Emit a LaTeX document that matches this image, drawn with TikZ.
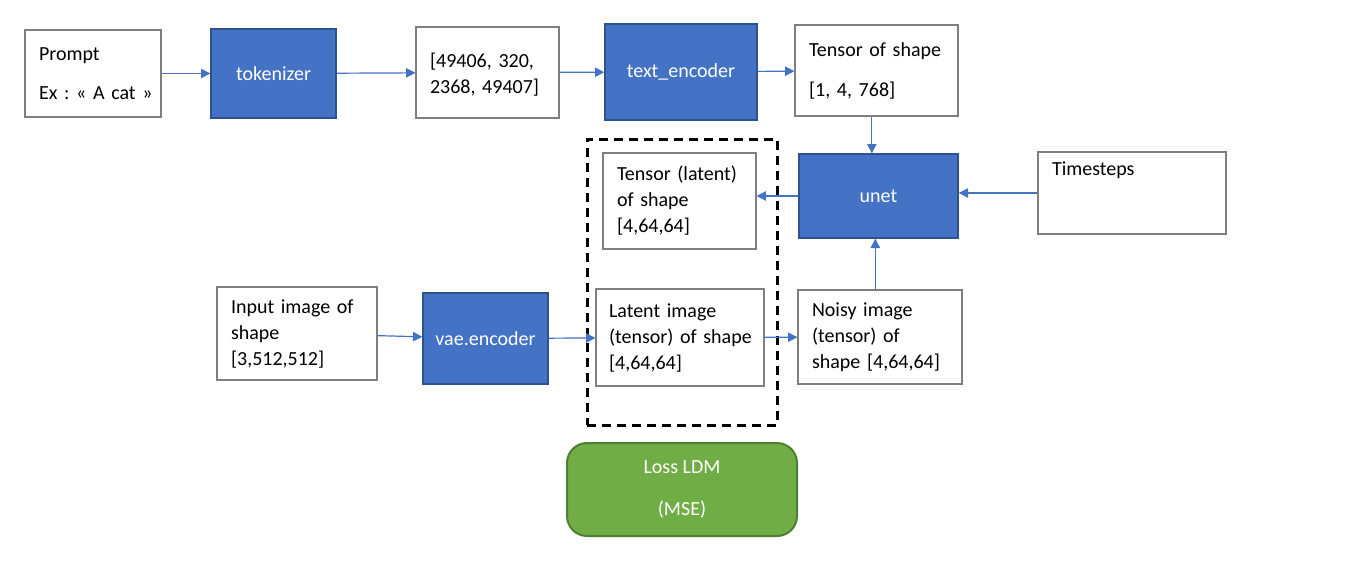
\documentclass[tikz,border=0pt]{standalone}
\usepackage{fontspec}
\setmainfont{Carlito}
\usetikzlibrary{arrows.meta}
\definecolor{boxblue}{HTML}{4472C4}
\definecolor{blueedge}{HTML}{2F528F}
\definecolor{boxgray}{HTML}{7F7F7F}
\definecolor{lossgreen}{HTML}{70AD47}
\definecolor{lossedge}{HTML}{507E32}
\frenchspacing

\begin{document}
\begin{tikzpicture}[x=0.75pt,y=-0.75pt]
	\tikzstyle{wbox} = [draw=boxgray,fill=white,line width=0.8pt,inner xsep=10.5pt,align=left,font=\fontsize{15}{19.5}\selectfont]
	\tikzstyle{bbox} = [draw=blueedge,fill=boxblue,line width=1pt,text=white,align=center,font=\fontsize{15}{19.5}\selectfont]
	\tikzstyle{lossbox} = [draw=lossedge,fill=lossgreen,line width=1.5pt,rounded corners=15pt,text=white,align=center,font=\fontsize{15}{19.5}\selectfont]
	\tikzstyle{arr} = [->,>={Triangle[length=7pt,width=7pt]},draw=boxblue,line width=0.9pt]
	\useasboundingbox (0,0) rectangle (1364,571);
	% dashed frame round the latents
	\node[draw,dashed,line width=2.25pt,dash pattern=on 6.75pt off 4.5pt,minimum width=142.5pt,minimum height=214.5pt] (frame) at (682,282) {};
	% text branch
	\node[wbox,text width=81pt,minimum height=65.25pt] (prompt) at (93,73.5) {Prompt\\[9.75pt]\mbox{Ex : « A cat »}};
	\node[bbox,minimum width=93.75pt,minimum height=66.75pt] (tokenizer) at (273.5,73.5) {tokenizer};
	\node[wbox,text width=86.25pt,minimum height=68.25pt,text depth=18.75pt] (tokens) at (487.5,72.5) {[49406, 320,\\2368, 49407]};
	\node[bbox,minimum width=114pt,minimum height=72pt] (textenc) at (681,72) {text\_encoder};
	\node[wbox,text width=101.25pt,minimum height=68.25pt] (tensor) at (876.5,70.5) {Tensor of shape\\[10.5pt][1, 4, 768]};
	% unet row
	\node[bbox,minimum width=119.25pt,minimum height=63pt] (unet) at (878.5,196) {unet};
	\node[wbox,text width=120pt,minimum height=61.5pt,text depth=36.75pt] (timesteps) at (1132,193) {Timesteps};
	\node[wbox,text width=93.75pt,minimum height=72pt] (tlat) at (679.5,201) {Tensor (latent)\\of shape\\{[4,64,64]}};
	% image branch
	\node[wbox,text width=99pt,minimum height=69.75pt] (input) at (297,333.5) {Input image of\\shape\\{[3,512,512]}};
	\node[bbox,minimum width=93.75pt,minimum height=68.25pt] (vae) at (485.5,338.5) {vae.encoder};
	\node[wbox,inner xsep=9.75pt,text width=106.5pt,minimum height=72.75pt] (latent) at (680,337.5) {Latent image\\\mbox{(tensor) of shape}\\{[4,64,64]}};
	\node[wbox,text width=102pt,minimum height=70.5pt] (noisy) at (880,337) {Noisy image\\(tensor) of\\shape [4,64,64]};
	% loss
	\node[lossbox,minimum width=172.5pt,minimum height=69.75pt] (loss) at (682,489.5) {Loss LDM\\[12pt](MSE)};
	% connections
	\foreach \a/\b in {prompt/tokenizer,tokenizer/tokens,tokens/textenc,textenc/tensor,input/vae,vae/latent,latent/noisy}
		\draw[arr] (\a) -- (\b);
	\draw[arr] ([xshift=-3.5pt]tensor.south) -- ([xshift=-3.5pt]tensor.south |- unet.north);
	\draw[arr] (timesteps.west) -- (unet.east |- timesteps.west);
	\draw[arr] (unet.west) -- (tlat.east |- unet.west);
	\draw[arr] ([xshift=-3.5pt]noisy.north) -- ([xshift=-3.5pt]noisy.north |- unet.south);
\end{tikzpicture}
\end{document}
